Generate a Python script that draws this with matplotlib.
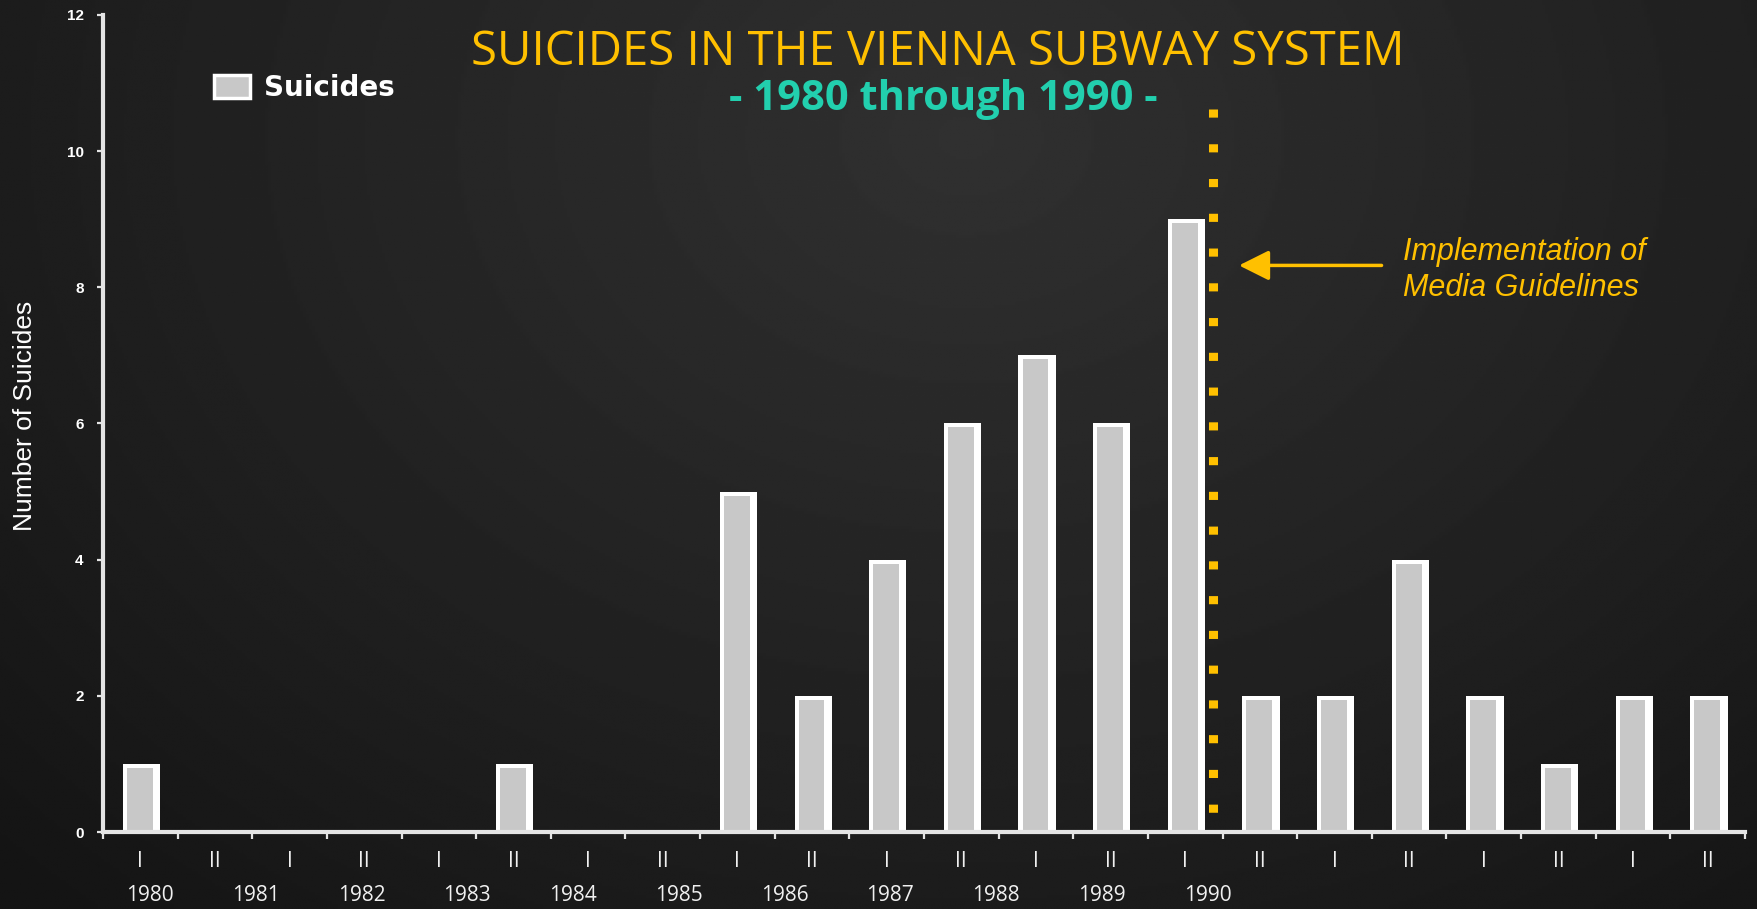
import matplotlib.pyplot as plt
import numpy as np
from matplotlib import font_manager
from matplotlib.transforms import blended_transform_factory
from matplotlib.patches import Patch


halves = ['I', 'II'] * 11
years = ['1980', '1981', '1982', '1983', '1984', '1985',
         '1986', '1987', '1988', '1989', '1990']
suicides = [1, 0, 0, 0, 0, 1, 0, 0, 5, 2, 4, 6, 7, 6, 9, 2, 2, 4, 2, 1, 2, 2]
# guidelines came in just after the first half of 1990 (bar index 14)
guideline_pos = 14.37

GOLD = '#FFC000'
TEAL = '#22CFAE'
BAR_GRAY = '#C8C8C8'
AXIS_COL = '#E4E4E4'

names = {f.name for f in font_manager.fontManager.ttflist}
narrow = 'Liberation Sans Narrow' if 'Liberation Sans Narrow' in names else 'Liberation Sans'

fig = plt.figure(figsize=(17.57, 9.09), dpi=100)

# dark background with a soft light spot near the top
bg = fig.add_axes([0, 0, 1, 1], zorder=-10)
gy, gx = np.mgrid[0:1:300j, 0:1:600j]
r = np.sqrt(((gx - 0.55) * 1.5) ** 2 + (gy - 0.15) ** 2)
shade = 0.19 - 0.11 * np.clip(r / 1.15, 0, 1)
bg.imshow(shade, cmap='gray', vmin=0, vmax=1, aspect='auto',
          extent=[0, 1, 0, 1], origin='upper')
bg.set_axis_off()

ax = fig.add_axes([0.0586, 0.0847, 0.9346, 0.899])
ax.patch.set_alpha(0)

x = np.arange(len(suicides))
vals = np.array(suicides, dtype=float)
ax.bar(x + 0.015, vals, width=0.5, color='white', linewidth=0, zorder=2)
ax.bar(x - 0.007, np.clip(vals - 0.06, 0, None), width=0.345,
       color=BAR_GRAY, linewidth=0, zorder=3)

ax.set_xlim(-0.5, len(suicides) - 0.5)
ax.set_ylim(0, 12)
ax.set_yticks(range(0, 13, 2))
ax.set_xticks(np.arange(-0.5, len(suicides), 1))
ax.set_xticklabels([])

for s in ['top', 'right']:
    ax.spines[s].set_visible(False)
for s in ['left', 'bottom']:
    ax.spines[s].set_color(AXIS_COL)
    ax.spines[s].set_linewidth(3)
    ax.spines[s].set_zorder(5)

ax.tick_params(axis='x', length=5, width=1.6, color=AXIS_COL)
ax.tick_params(axis='y', length=4, width=1.6, color=AXIS_COL, pad=10,
               labelcolor='white', labelsize=11)
for lab in ax.get_yticklabels():
    lab.set_fontweight('bold')
    lab.set_fontfamily('Liberation Sans')

# half-year labels under each bar, year labels in a row below
tr = blended_transform_factory(ax.transData, fig.transFigure)
for i, h in enumerate(halves):
    ax.text(i, 0.052, h, transform=tr, ha='center', va='center',
            color='#F0F0F0', fontsize=15, family='Open Sans')
for k, yr in enumerate(years):
    ax.text(0.13 + 1.417 * k, 0.0145, yr, transform=tr, ha='center',
            va='center', color='#F0F0F0', fontsize=15, family='Open Sans')

fig.text(0.0142, 0.543, 'Number of Suicides', rotation=90, ha='center',
         va='center', color='white', fontsize=19, family=narrow)

# titles
fig.text(0.534, 0.943, 'SUICIDES IN THE VIENNA SUBWAY SYSTEM', ha='center',
         va='center', color=GOLD, fontsize=34, family='Open Sans')
fig.text(0.537, 0.891, '- 1980 through 1990 -', ha='center', va='center',
         color=TEAL, fontsize=30, fontweight='bold', family='Open Sans')

# media guidelines marker
ax.plot([guideline_pos, guideline_pos], [10.62, 0.2], color=GOLD, lw=6.5,
        linestyle=(0, (0.9, 2.95)), dash_capstyle='butt', zorder=4)
ax.annotate('', xy=(14.72, 8.32), xytext=(16.63, 8.32),
            arrowprops=dict(arrowstyle='-|>,head_length=0.4,head_width=0.2',
                            color=GOLD, lw=2.5, mutation_scale=46,
                            shrinkA=0, shrinkB=0))
fig.text(0.7985, 0.703, 'Implementation of\nMedia Guidelines', ha='left',
         va='center', color=GOLD, fontsize=22, style='italic',
         family='Liberation Sans', linespacing=1.22)

leg = ax.legend(handles=[Patch(facecolor=BAR_GRAY, edgecolor='white', lw=2.5)],
                labels=['Suicides'], loc='center left',
                bbox_to_anchor=(0.122, 0.903), bbox_transform=fig.transFigure,
                frameon=False, handlelength=1.3, handleheight=0.9,
                handletextpad=0.5, borderpad=0, borderaxespad=0,
                prop={'weight': 'heavy', 'size': 20, 'family': 'DejaVu Sans'})
for t in leg.get_texts():
    t.set_color('white')

fig.savefig('out.png', dpi=100)
